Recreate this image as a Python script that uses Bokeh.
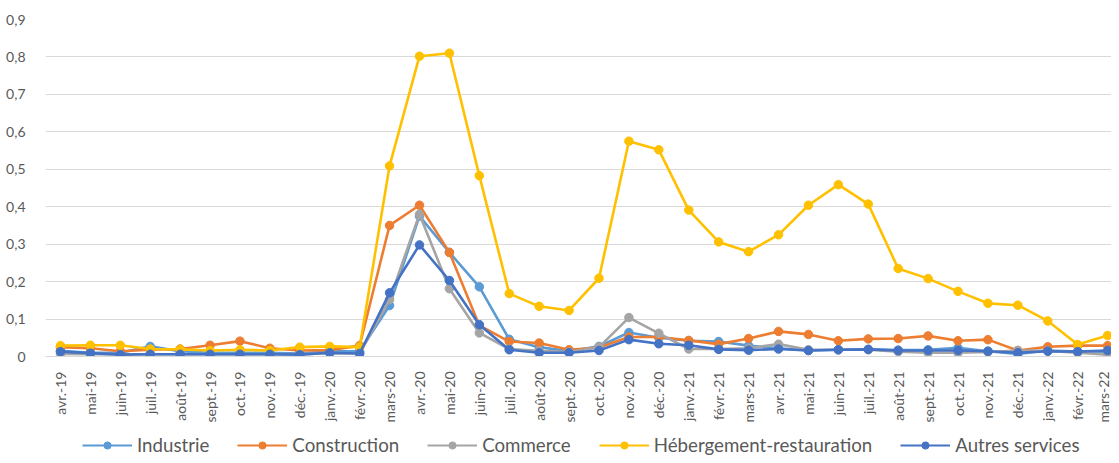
from bokeh.plotting import figure
from bokeh.layouts import column
from bokeh.models import Range1d, Legend, LegendItem, FixedTicker, ColumnDataSource
from bokeh.embed import file_html
from bokeh.resources import INLINE
import math

months = ["avr.-19", "mai-19", "juin-19", "juil.-19", "août-19", "sept.-19", "oct.-19", "nov.-19",
          "déc.-19", "janv.-20", "févr.-20", "mars-20", "avr.-20", "mai-20", "juin-20", "juil.-20",
          "août-20", "sept.-20", "oct.-20", "nov.-20", "déc.-20", "janv.-21", "févr.-21", "mars-21",
          "avr.-21", "mai-21", "juin-21", "juil.-21", "août-21", "sept.-21", "oct.-21", "nov.-21",
          "déc.-21", "janv.-22", "févr.-22", "mars-22"]

industrie = [0.015, 0.010, 0.010, 0.027, 0.014, 0.010, 0.010, 0.010, 0.008, 0.014, 0.014,
             0.136, 0.375, 0.278, 0.186, 0.046, 0.025, 0.014, 0.027, 0.064, 0.050, 0.042,
             0.040, 0.029, 0.022, 0.016, 0.018, 0.019, 0.017, 0.018, 0.023, 0.014, 0.007,
             0.016, 0.013, 0.013]
construction = [0.025, 0.022, 0.014, 0.018, 0.020, 0.030, 0.041, 0.022, 0.016, 0.017, 0.029,
                0.350, 0.404, 0.278, 0.083, 0.040, 0.036, 0.018, 0.024, 0.052, 0.052, 0.043,
                0.033, 0.048, 0.067, 0.059, 0.042, 0.047, 0.048, 0.055, 0.042, 0.045, 0.016,
                0.026, 0.029, 0.029]
commerce = [0.007, 0.006, 0.006, 0.006, 0.006, 0.006, 0.006, 0.006, 0.006, 0.009, 0.008,
            0.152, 0.380, 0.181, 0.063, 0.020, 0.015, 0.012, 0.025, 0.104, 0.062, 0.020,
            0.020, 0.022, 0.033, 0.018, 0.018, 0.018, 0.013, 0.010, 0.010, 0.012, 0.016,
            0.015, 0.010, 0.005]
hebergement = [0.029, 0.030, 0.030, 0.020, 0.019, 0.016, 0.018, 0.016, 0.025, 0.027, 0.025,
               0.509, 0.802, 0.810, 0.483, 0.168, 0.134, 0.123, 0.209, 0.575, 0.552, 0.391,
               0.306, 0.280, 0.325, 0.404, 0.459, 0.407, 0.235, 0.208, 0.174, 0.142, 0.137,
               0.095, 0.032, 0.056]
autres = [0.013, 0.009, 0.005, 0.006, 0.006, 0.006, 0.006, 0.006, 0.005, 0.010, 0.008,
          0.170, 0.298, 0.203, 0.085, 0.018, 0.010, 0.010, 0.016, 0.045, 0.034, 0.030,
          0.019, 0.017, 0.020, 0.016, 0.018, 0.019, 0.016, 0.016, 0.016, 0.014, 0.010,
          0.014, 0.013, 0.016]

y_ticks = [0, 0.1, 0.2, 0.3, 0.4, 0.5, 0.6, 0.7, 0.8, 0.9]
y_labels = ["0", "0,1", "0,2", "0,3", "0,4", "0,5", "0,6", "0,7", "0,8", "0,9"]

series = [
    ("Industrie", industrie, "#5B9BD5"),
    ("Construction", construction, "#ED7D31"),
    ("Commerce", commerce, "#A5A5A5"),
    ("Hébergement-restauration", hebergement, "#FFC000"),
    ("Autres services", autres, "#4472C4"),
]

FONT = "Lato"
TXT = "#595959"
W = 1111

p = figure(width=W, height=425, output_backend="svg", toolbar_location=None,
           x_range=Range1d(-0.5, 35.13), y_range=Range1d(0, 0.9))
p.min_border_top = 19
p.min_border_right = 0
p.min_border_left = 45
p.min_border_bottom = 67
p.outline_line_color = None
p.background_fill_color = "white"
p.border_fill_color = "white"

x = list(range(len(months)))

for name, vals, color in series:
    src = ColumnDataSource(dict(x=x, y=vals))
    p.line("x", "y", source=src, line_color=color, line_width=2.6)
    p.scatter("x", "y", source=src, size=8.5, fill_color=color, line_color=color)

# axes
p.xaxis.ticker = FixedTicker(ticks=x)
p.xaxis.major_label_overrides = {i: m for i, m in enumerate(months)}
p.xaxis.major_label_orientation = math.pi / 2
p.xaxis.major_tick_line_color = None
p.xaxis.minor_tick_line_color = None
p.xaxis.axis_line_color = "#D9D9D9"
p.xaxis.major_label_text_font = FONT
p.xaxis.major_label_text_font_size = "14px"
p.xaxis.major_label_text_color = TXT
p.xaxis.major_label_standoff = 9

p.yaxis.ticker = FixedTicker(ticks=y_ticks)
p.yaxis.major_label_overrides = {t: l for t, l in zip(y_ticks, y_labels)}
p.yaxis.major_tick_line_color = None
p.yaxis.minor_tick_line_color = None
p.yaxis.axis_line_color = None
p.yaxis.major_label_text_font = FONT
p.yaxis.major_label_text_font_size = "14px"
p.yaxis.major_label_text_color = TXT
p.yaxis.major_label_standoff = 14

p.xgrid.grid_line_color = None
p.ygrid.grid_line_color = "#D9D9D9"
p.ygrid.grid_line_width = 1

# legend strip below the chart (same series, drawn outside its visible range)
lg = figure(width=W, height=30, output_backend="svg", toolbar_location=None,
            x_axis_location=None, y_axis_location=None,
            x_range=Range1d(-0.5, 35.13), y_range=Range1d(10, 11))
lg.min_border_left = 45
lg.min_border_right = 0
lg.min_border_top = 0
lg.min_border_bottom = 0
lg.grid.visible = False
lg.outline_line_color = None
lg.border_fill_color = "white"
lg.background_fill_color = "white"

items = []
for name, vals, color in series:
    src = ColumnDataSource(dict(x=x, y=vals))
    r1 = lg.line("x", "y", source=src, line_color=color, line_width=2.2)
    r2 = lg.scatter("x", "y", source=src, size=7.5, fill_color=color, line_color=color)
    items.append(LegendItem(label=name, renderers=[r1, r2]))

legend = Legend(items=items, orientation="horizontal", location=(37, -1),
                label_text_font=FONT, label_text_font_size="18.7px", label_text_color=TXT,
                glyph_width=50, glyph_height=18, spacing=28, padding=0, margin=0,
                border_line_color=None, background_fill_alpha=0, label_standoff=5)
lg.add_layout(legend, "center")

layout = column(p, lg, spacing=0)
open("out.html", "w").write(file_html(layout, INLINE))
